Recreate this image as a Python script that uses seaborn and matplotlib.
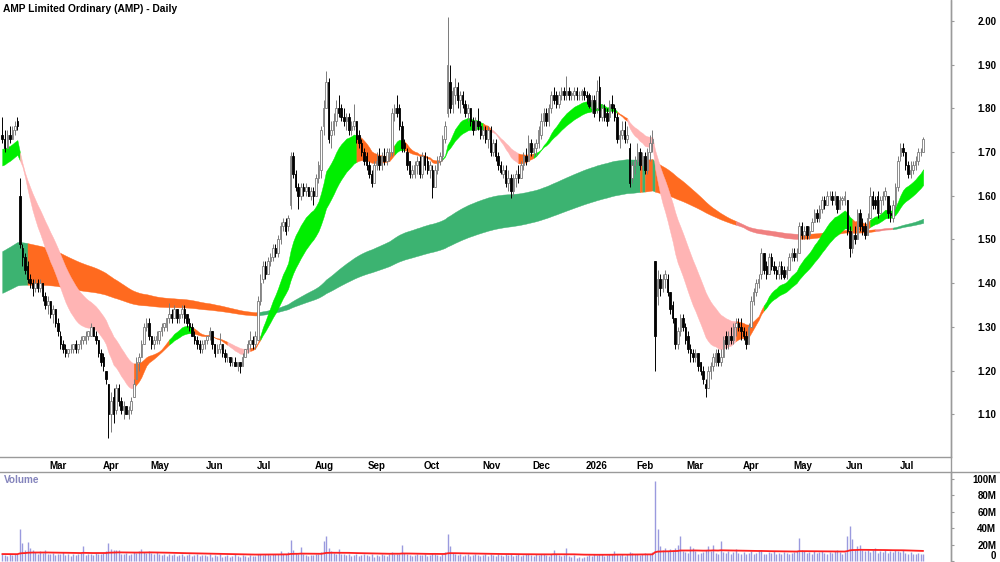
import numpy as np
import pandas as pd
import matplotlib
matplotlib.use("Agg")
import matplotlib.pyplot as plt
import matplotlib.transforms as mtransforms
from matplotlib.lines import Line2D
import seaborn as sns

# ---------------- data: daily prices in cents, volume in millions ----------------
opens = [
    174,173,171,174,173,175,177,160,148,146,144,141,140,139,140,139,140,137,  # Feb 25
    135,136,133,134,131,128,126,125,124,125,125,126,125,126,127,127,128,128,130,128,127,  # Mar
    124,123,120,117,110,114,111,116,113,111,112,110,111,114,118,122,123,126,130,  # Apr
    131,128,126,127,127,129,130,130,132,133,132,134,132,133,134,133,131,130,128,127,126,125,  # May
    126,127,128,129,126,124,125,126,124,123,123,122,122,121,122,121,123,125,126,127,  # Jun
    126,127,136,141,144,142,145,146,148,147,150,153,154,153,158,169,165,162,160,162,161,162,160,  # Jul
    161,160,164,166,176,180,186,174,175,177,180,180,178,177,178,175,176,177,174,172,170,  # Aug
    169,167,165,163,167,169,167,169,168,169,170,179,180,180,176,172,170,168,165,165,167,168,  # Sep
    165,169,168,166,166,162,166,168,169,173,179,186,181,183,185,182,183,181,179,180,177,175,177,  # Oct
    176,174,175,173,175,170,172,169,167,165,166,163,164,161,164,165,164,167,169,168,  # Nov
    172,170,171,172,174,177,179,177,180,183,183,181,183,184,183,184,183,183,184,183,183,  # Dec
    184,183,183,180,182,180,185,178,180,179,178,181,180,178,173,174,175,173,171,164,  # Jan 26
    167,168,170,167,169,166,170,172,145,137,141,139,141,141,138,135,132,126,129,132,  # Feb
    130,128,125,124,123,124,122,120,117,116,120,121,122,124,122,123,128,126,128,127,130,131,  # Mar
    130,129,128,126,130,136,138,140,142,147,144,142,146,144,143,142,144,143,142,143,  # Apr
    146,147,146,147,153,151,153,151,152,154,156,155,157,159,158,160,160,159,160,157,159,  # May
    159,159,152,148,151,150,156,153,153,151,155,160,159,160,156,159,160,160,156,155,158,  # Jun
    162,169,171,170,167,165,166,167,168,170,170,  # Jul
]
highs = [
    178,175,175,176,176,177,178,164,149,147,145,142,141,141,141,141,140,138,
    137,136,135,134,132,129,127,126,125,126,126,127,126,128,128,129,129,131,130,129,127,
    125,124,120,117,115,116,117,117,114,113,112,112,114,118,123,124,127,131,132,
    132,128,128,129,129,131,131,132,135.5,134,135,134,133,135,135,133,132,131,129,128,127,127,
    127,128,130,129,126,126,128.5,126,125,124,123,123,123,122,122,124,125,127,129,128,
    129,137,142,145,145,146,147,149,149,151,154,155,155,155.5,170,170,166,163,163,163,163,162,162,
    162,165,168,176,182,188.5,187,177,179,182,183,181,180,179,179,177,181,177,175,173,171,
    170,168,166,168,170,171,170,171,171,171,180,181,183,181,177,173,171,168,167,168,169,169,
    170,170,169,168,167,167,169,170,174,177,201,190,185,187,186,184,184,182,181,180,178,178,180,
    177,176,176,176,176,173,173,170,168,167,167,166,165,165,166,167,168,170,171,174,
    173,172,173,176,179,180,180,181,184,185,184,184,185,185,187.5,185,184,185,185,184,184.5,
    185,184,183.5,183,183,186.5,187.5,181,181,180,182,183,181,179,175,177,177,176,172,168,
    169,172,171,170,170,171,174,175,145,143,142,142,143,142,138,136,132,130,133,133,
    131,129,126,125,125,124,122,121,118,121,122,124,125,125,125,128,129,129,130,131,132,132,
    132,130,129,131,137,139,141,142,148,147,145,147,147,145,144,145,145,144,144,147,
    148,148,148,154,154,153,153,153,155,157,157,158,160,160,161,161,161,161,160,160,160,
    161,159,153,152,153,157,157,155,154,156,162,161,160,161,160,161,162,160,158,159,163,
    169,172,172,170,168,168,168,169,171,171,173.5,
]
lows = [
    172,170,171,172,173,174,175,148,144,142,140,139,137,138,138,138,136,134,
    133,132,131,130,128,125,124,123,123,124,124,124,124,125,126,126,127,128,128,126,123,
    121,120,117,104.5,106,108,110,112,110,109,110,109,110,114,118,120,123,126,129,
    127,125,125,126,126,128,129,129,131,131,132,131,131,132,131,130,129,128,126,125,124,124,
    125,126,127,125,123,124,124,123,122,122,121,121,121,120,119.5,121,123,124,125,125,
    125,127,135,140,141,142,144,145,146,146,149,152,151,152,157,164,161,157,159,160,160,160,159,
    158,160,163,164,174,180,172,171,174,176,178,177,176,175,174,174,175,172,171,169,167,
    166,164,162,163,166,166,166,167,167,168,169,177,178,175,170,170,166,164,164,164,165,164,
    164,166,165,164,159.5,162,165,167,168,172,178,179,179,181,180,179,180,178,177,176,174,175,175,
    173,173,172,171,169,169,168,166,165,164,162,161,159.5,160,162,163,164,166,167,168,
    169,169,169,171,173,176,176,176,179,181,180,180,182,182,182,182,182,182,182,182,182,
    182,181,180,179,178,179,177,177,177,176,177,179,177,172,171,173,172,172,162,163,
    165,167,166,166,165,165,168,170,120,135,137,138,139,137,133,131,125,125,128,129,
    126,124,122,122,122,120,119,117,114,116,118,120,121,121,121,123,125,125,126,126,128,129,
    127,127,125,126,130,135,137,139,141,142,141,142,143,142,141,141,141,141,141,143,
    145,145,145,147,150,150,150,150,152,154,154,154,156,157,158,159,158,158,156,157,158,
    158,151,146,147,149,150,152,151,150,151,155,157,157,155,156,158,159,155,154,154,157,
    161,168,169,166,164,164,165,166,167,169,170,
]
closes = [
    173,171,174,173,175,176,176,149,146,143,141,140,139,140,139,140,137,135,
    136,133,134,131,129,126,125,124,125,125,126,125,126,127,128,128,129,130,128,127,124,
    122,121,118,110,113,110,116,113,111,112,110,111,113,117,122,123,126,130,131,
    128,126,127,128,129,130,131,132,133,132,134,132,133,134,132,131,130,128,127,126,125,126,
    127,128,129,126,124,125,126,124,123,123,122,122,121,122,121,123,125,126,127,126,
    128,136,140,144,142,145,146,148,147,150,153,154,152,155,169,165,162,160,162,161,162,160,161,
    160,164,167,175,180,186,173,175,177,180,179,178,177,178,175,176,177,173,172,170,168,
    167,165,163,167,168,167,169,168,170,170,179,180,179,176,171,171,167,165,166,167,168,165,
    169,167,166,167,162,166,168,169,173,176,190,180,184,185,182,183,181,179,180,177,175,177,176,
    174,175,173,175,170,172,169,167,165.5,166,163,164,161,164,165,164,167,169,168,172,
    170,171,172,175,177,179,177,180,183,182,181,183,184,183,184,183,183.5,184,183,183,184,
    183,182.5,180.5,182,179,184,178,180,178,177,181,180,178,173,174,175,173,174,163,167,
    168,170,167,169,166,170,172,173,128,141,139,141,142,138,134,132,126,129,132,130,
    127,125,124,123,124,121,120,118,116,120,121,123,124,122,123,127,126,128,127,130,131,130,
    129,128,126,130,136,138,140,141,147,143,142,146,144,143,142,144,142,141.5,143,146,
    147,146,147,153,151,152,151,152,154,156,155,157,159,158,160,160,159,160,157,159,159.5,
    160,152,148,151,150,156,153,152,151,155,160,158,158,156,159,160,161,156,155.5,158,162,
    168,171,170,167,165,166,167,168,170,170,173,
]
volume_m = [
    8,7,6,9,7,8,9,39,22,13,23,16,14,11,9,12,10,13,
    9,8,10,7,9,8,11,7,8,6,9,7,8,10,18,7,9,8,7,10,9,
    9,10,12,22,15,14,14,13,9,8,10,7,9,11,10,12,15,11,10,
    12,10,9,11,8,7,9,6,8,7,9,6,7,8,6,7,9,6,7,8,6,7,
    7,6,8,5,7,6,8,5,6,7,5,6,8,6,5,7,6,5,7,6,
    6,8,9,7,8,9,7,8,9,8,12,9,8,11,26,13,10,9,17,8,7,6,7,
    7,9,8,11,24,31,16,12,10,9,15,8,9,7,8,6,7,8,6,7,8,
    7,6,8,5,7,6,8,7,6,9,11,9,8,9,19,10,8,7,6,7,8,7,
    7,8,6,7,10,8,7,6,9,11,33,18,10,8,7,9,6,7,8,6,7,9,7,
    6,7,8,6,9,7,6,8,7,6,9,7,8,6,7,8,6,7,9,8,
    7,6,8,7,9,8,7,6,9,14,8,7,6,7,16,6,5,7,4,5,4,
    5,6,7,6,8,7,9,8,6,7,8,9,12,9,7,8,6,9,11,10,
    8,9,7,8,10,9,8,11,98,39,18,14,16,12,15,13,16,20,31,12,
    11,10,18,16,12,9,10,11,13,18,12,19,10,9,24,11,10,12,9,11,15,10,
    9,11,8,10,12,9,10,13,14,9,8,11,10,12,9,10,8,11,10,9,
    10,11,12,28,13,12,10,11,9,12,10,11,12,10,9,11,10,12,13,11,9,
    11,30,43,27,14,18,20,13,12,14,11,13,16,10,12,11,13,10,12,11,13,
    12,11,13,10,9,11,8,9,10,9,8,
]

asx_holidays = ["2025-04-18", "2025-04-21", "2025-04-25", "2025-06-09", "2025-12-25",
                "2025-12-26", "2026-01-01", "2026-01-26", "2026-04-03", "2026-04-06",
                "2026-06-08"]

# moving average ribbons (EMA periods and their starting values)
short_periods = [16, 18, 20, 23, 26, 30]
short_seed = [170.5, 170, 169.5, 168.5, 167.5, 166.5]
long_periods = [150, 170, 190, 210, 230, 250]
long_seed = [147, 145, 143, 141, 139, 137.5]

# ribbon colour runs: (first day, last day, colour)
short_runs = [(0, 7, "lime"), (7, 52, "pink"), (52, 66, "orange"), (66, 75, "lime"),
              (75, 89, "orange"), (89, 98, "pink"), (98, 102, "orange"), (102, 140, "lime"),
              (140, 155, "orange"), (155, 159, "lime"), (159, 174, "orange"), (174, 190, "lime"),
              (190, 193, "orange"), (193, 204, "pink"), (204, 210, "orange"), (210, 243, "lime"),
              (243, 247, "orange"), (247, 290, "pink"), (290, 301, "orange"), (301, 336, "lime"),
              (336, 343, "orange"), (343, 364, "lime")]
long_runs = [(0, 10, "sea"), (10, 101, "orange"), (101, 252, "sea"), (252, 253, "orange"),
             (253, 254, "sea"), (254, 257, "orange"), (257, 258, "sea"), (258, 290, "orange"),
             (290, 315, "coral"), (315, 345, "orange"), (345, 352, "coral"), (352, 364, "sea")]

vol_ma_seed = 8.5
vol_ma_span = 70

palette = {"lime": "#00ee00", "pink": "#ffb4b4", "orange": "#ff6a1f",
           "sea": "#3cb371", "coral": "#f08080"}

# ---------------- prep ----------------
dates = pd.bdate_range("2025-02-05", "2026-07-15")
dates = dates[~dates.isin(pd.to_datetime(asx_holidays))]
o = np.array(opens, float)
h = np.array(highs, float)
l = np.array(lows, float)
c = np.array(closes, float)
vol = np.array(volume_m, float)
n = len(c)
assert len(o) == len(h) == len(l) == n == len(vol) == len(dates)
x = np.arange(n)


def ema_group(values, periods, seeds):
    out = np.zeros((len(periods), len(values)))
    for k, (p, s) in enumerate(zip(periods, seeds)):
        a = 2.0 / (p + 1)
        e = s
        for i, v in enumerate(values):
            e = e + a * (v - e)
            out[k, i] = e
    return out


short = ema_group(c, short_periods, short_seed)
long_ = ema_group(c, long_periods, long_seed)
vol_ma = ema_group(vol, [vol_ma_span], [vol_ma_seed])[0]

# month starts
months = pd.Series(dates.month)
starts = np.where(months.ne(months.shift()).values)[0][1:]
mlabels = [("%d" % dates[i].year) if dates[i].month == 1 else dates[i].strftime("%b") for i in starts]

# ---------------- plot ----------------
sns.set_theme(style="white")
plt.rcParams["font.family"] = ["Liberation Sans", "DejaVu Sans"]
plt.rcParams["font.weight"] = "bold"

W, H = 1000, 562
fig = plt.figure(figsize=(10, 5.62), dpi=100)
ax = fig.add_axes([0, (H - 457) / H, 951 / W, 457 / H])
axv = fig.add_axes([0, 0, 951 / W, 90 / H])

xlim = (-0.87, 375.0)
grey = "#9a9a9a"

# ribbons
for runs, band in ((long_runs, long_), (short_runs, short)):
    lo, hi = band.min(axis=0), band.max(axis=0)
    for s, e, key in runs:
        ax.fill_between(x[s:e + 1], lo[s:e + 1], hi[s:e + 1], color=palette[key],
                        lw=0.3, edgecolor=palette[key], zorder=1)

# candles
up = c >= o
ax.vlines(x[up], l[up], h[up], color="#7a7a7a", lw=0.7, zorder=3)
ax.vlines(x[~up], l[~up], h[~up], color="black", lw=0.7, zorder=3)
ax.bar(x[up], (c - o)[up], bottom=o[up], width=0.6, color="white",
       edgecolor="#7a7a7a", linewidth=0.6, zorder=4)
ax.bar(x[~up], (o - c)[~up], bottom=c[~up], width=0.6, color="black",
       edgecolor="black", linewidth=0.6, zorder=4)

ax.set_xlim(*xlim)
ax.set_ylim(100.23, 204.8)
for sp in ("top", "left"):
    ax.spines[sp].set_visible(False)
for sp in ("right", "bottom"):
    ax.spines[sp].set_color(grey)
    ax.spines[sp].set_linewidth(1)

ax.yaxis.tick_right()
pt = [110, 120, 130, 140, 150, 160, 170, 180, 190, 200]
ax.set_yticks(pt)
ax.set_yticklabels(["%.2f" % (v / 100) for v in pt])
ax.tick_params(axis="y", direction="out", length=2.5, width=0.8, color=grey,
               pad=30, labelsize=7, labelcolor="black")
for t in ax.get_yticklabels():
    t.set_ha("right")
    t.set_fontweight("bold")

ax.set_xticks(starts)
ax.set_xticklabels(mlabels)
ax.tick_params(axis="x", direction="out", length=2.5, width=0.8, color=grey,
               pad=0.5, labelsize=7, labelcolor="black")
shift = mtransforms.ScaledTranslation(1.5 / 100, 0, fig.dpi_scale_trans)
for t in ax.get_xticklabels():
    t.set_ha("left")
    t.set_fontweight("bold")
    t.set_transform(t.get_transform() + shift)

fig.text(3 / W, 1 - 8.5 / H, "AMP Limited Ordinary (AMP) - Daily", fontsize=7.4,
         fontweight="bold", ha="left", va="center", color="black")

# volume
axv.vlines(x, 0, vol, color="#9a9ade", lw=1.0, zorder=2)
sns.lineplot(x=x, y=vol_ma, ax=axv, color="#ff2020", lw=1.3, zorder=3)
axv.set_xlim(*xlim)
axv.set_ylim(-1.2, 108.5)
for sp in ("left", "bottom"):
    axv.spines[sp].set_visible(False)
for sp in ("right", "top"):
    axv.spines[sp].set_color(grey)
    axv.spines[sp].set_linewidth(1)
axv.set_xticks([])
axv.yaxis.tick_right()
vt = [0, 20, 40, 60, 80, 100]
axv.set_yticks(vt)
axv.set_yticklabels(["0"] + ["%dM" % v for v in vt[1:]])
axv.tick_params(axis="y", direction="out", length=2.5, width=0.8, color=grey,
                pad=30, labelsize=7, labelcolor="black")
for i, t in enumerate(axv.get_yticklabels()):
    t.set_ha("right")
    t.set_fontweight("bold")
    if i == 0:
        t.set_va("bottom")
axv.text(4 / 951, 1 - 8 / 90, "Volume", transform=axv.transAxes,
         fontsize=7.2, fontweight="bold", color="#8484bc", ha="left", va="center")

# frame lines that run across the whole figure
fig.add_artist(Line2D([951 / W, 951 / W], [0, 1], color=grey, lw=1, transform=fig.transFigure))
fig.add_artist(Line2D([951 / W, 1], [90 / H, 90 / H], color=grey, lw=1, transform=fig.transFigure))

fig.savefig("out.png", dpi=100, facecolor="white")
